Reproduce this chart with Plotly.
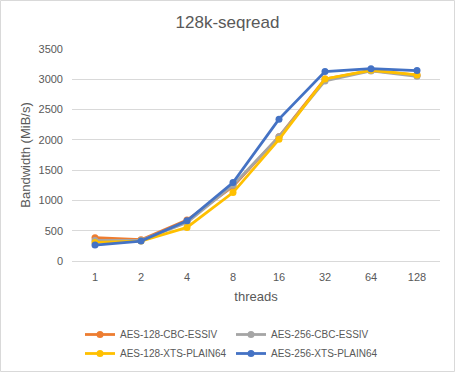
import plotly.graph_objects as go

threads = ["1", "2", "4", "8", "16", "32", "64", "128"]
series_names = ["AES-128-CBC-ESSIV", "AES-256-CBC-ESSIV", "AES-128-XTS-PLAIN64", "AES-256-XTS-PLAIN64"]
aes128_cbc = [384, 351, 675, 1229, 2052, 3006, 3143, 3067]
aes256_cbc = [340, 340, 636, 1250, 2052, 2973, 3138, 3050]
aes128_xts = [307, 329, 554, 1130, 2008, 3006, 3149, 3072]
aes256_xts = [263, 329, 664, 1295, 2342, 3127, 3176, 3143]
colors = ["#ED7D31", "#A5A5A5", "#FFC000", "#4472C4"]

fig = go.Figure()
for name, vals, c in zip(series_names, [aes128_cbc, aes256_cbc, aes128_xts, aes256_xts], colors):
    fig.add_trace(go.Scatter(x=threads, y=vals, name=name, mode="lines+markers",
                             line=dict(color=c, width=2.8), marker=dict(color=c, size=7)))

W, H = 455, 372
L, R, T, B = 72, 15, 49, 111
pw, ph = W - L - R, H - T - B

fig.update_layout(
    width=W, height=H,
    margin=dict(l=L, r=R, t=T, b=B, autoexpand=False),
    paper_bgcolor="white", plot_bgcolor="white",
    font=dict(family="Liberation Sans, Arial, sans-serif", color="#595959", size=11),
    title=dict(text="128k-seqread", x=0.5, xref="container", xanchor="center", y=1 - 22 / H, yanchor="middle",
               font=dict(size=17, color="#595959")),
    xaxis=dict(type="category", range=[-0.5, 7.5], showgrid=False, showline=False, ticks="",
               ticklabelstandoff=8,
               title=dict(text="threads", font=dict(size=13), standoff=9), tickfont=dict(size=11)),
    yaxis=dict(range=[0, 3500], dtick=500, showgrid=True, gridcolor="#D9D9D9", gridwidth=1,
               zeroline=True, zerolinecolor="#D9D9D9", zerolinewidth=1, showline=False, ticks="",
               ticklabelstandoff=8,
               title=dict(text="Bandwidth (MiB/s)", font=dict(size=13), standoff=4), tickfont=dict(size=11)),
    legend=dict(orientation="h", x=(80 - L) / pw, xanchor="left", y=(T + ph - 320) / ph, yanchor="top",
                entrywidth=106, entrywidthmode="pixels", font=dict(size=10, color="#595959"),
                bgcolor="rgba(0,0,0,0)", tracegroupgap=0),
    shapes=[dict(type="rect", xref="paper", yref="paper",
                 x0=(0.5 - L) / pw, x1=(W - 0.5 - L) / pw,
                 y0=-(B - 0.5) / ph, y1=1 + (T - 0.5) / ph,
                 line=dict(color="#D9D9D9", width=1), fillcolor="rgba(0,0,0,0)", layer="below")],
)

fig.write_html("out.html", config={"displayModeBar": False},
               post_script="document.body.style.margin='0';")
